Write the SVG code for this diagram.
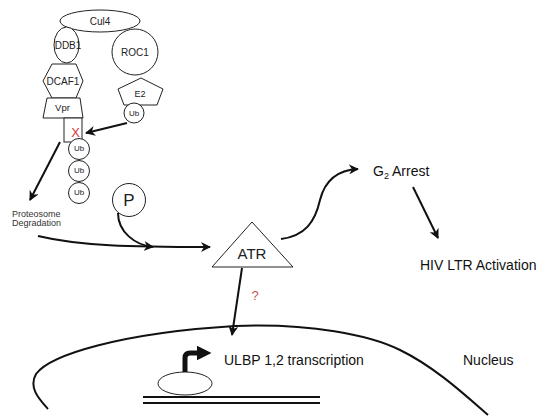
<svg xmlns="http://www.w3.org/2000/svg" width="550" height="420" viewBox="0 0 550 420">
<defs>
<marker id="ah" viewBox="0 0 10 10" refX="9" refY="5" markerWidth="5" markerHeight="5" orient="auto" markerUnits="strokeWidth">
<path d="M0,0 L10,5 L0,10 L3,5 Z" fill="#111"/>
</marker>
<marker id="ahb" viewBox="0 0 10 10" refX="5" refY="5" markerWidth="3" markerHeight="3" orient="auto" markerUnits="strokeWidth">
<path d="M0,0 L10,5 L0,10 Z" fill="#111"/>
</marker>
</defs>
<style>
.s{fill:#fff;stroke:#222;stroke-width:1}
.t{font-family:"Liberation Sans",Arial,sans-serif;fill:#222;text-anchor:middle}
.l{font-family:"Liberation Sans",Arial,sans-serif;fill:#111}
.c{fill:none;stroke:#111;stroke-width:2}
</style>
<rect width="550" height="420" fill="#fff"/>
<g id="cul4"><ellipse class="s" cx="100" cy="21" rx="40" ry="11"/><text class="t" x="100" y="25" font-size="10">Cul4</text></g>
<g id="ddb1"><ellipse class="s" cx="66.5" cy="45" rx="12.5" ry="18"/><text class="t" x="68" y="49" font-size="10">DDB1</text></g>
<g id="roc1"><circle class="s" cx="135" cy="52" r="23"/><text class="t" x="135" y="56" font-size="10">ROC1</text></g>
<g id="dcaf1"><polygon class="s" points="43,81 52,64 76,64 83,81 76,98 52,98"/><text class="t" x="63" y="85" font-size="10">DCAF1</text></g>
<g id="vpr"><polygon class="s" points="47,98 80,98 83,118 43,118"/><text class="t" x="62.5" y="111" font-size="9.5">Vpr</text></g>
<g id="e2"><polygon class="s" points="141,78 163,89 157,105 124,105 118,89"/><text class="t" x="140" y="97" font-size="9">E2</text></g>
<g id="ub0"><circle class="s" cx="134" cy="113" r="10"/><text class="t" x="134" y="116" font-size="8">Ub</text></g>
<g id="x"><rect class="s" x="64" y="118" width="18" height="24"/><text class="t" x="75.5" y="137" font-size="13" style="fill:#d03a3a">X</text></g>
<g id="ub1"><circle class="s" cx="79" cy="149" r="10.5"/><text class="t" x="79" y="151" font-size="8">Ub</text></g>
<g id="ub2"><circle class="s" cx="79" cy="171" r="10.5"/><text class="t" x="79" y="173" font-size="8">Ub</text></g>
<g id="ub3"><circle class="s" cx="79" cy="193" r="10.5"/><text class="t" x="79" y="195" font-size="8">Ub</text></g>
<g id="p"><circle class="s" cx="129" cy="200" r="16.5"/><text class="t" x="129" y="206" font-size="17">P</text></g>
<g id="proteosome"><text class="l" x="12" y="217" font-size="9" style="fill:#333">Proteosome</text><text class="l" x="12" y="226" font-size="9" style="fill:#333">Degradation</text></g>
<g id="atr"><polygon class="s" points="252,222 293,267 212,267"/><text class="t" x="252" y="259" font-size="15">ATR</text></g>
<g id="g2"><text class="l" x="373" y="176" font-size="14">G<tspan font-size="9" dy="3">2</tspan><tspan dy="-3"> Arrest</tspan></text></g>
<g id="hiv"><text class="l" x="420" y="270" font-size="14">HIV LTR Activation</text></g>
<g id="ulbp"><text class="l" x="224" y="365" font-size="14">ULBP 1,2 transcription</text></g>
<g id="nucleus"><text class="l" x="463" y="365" font-size="14">Nucleus</text>
<path class="c" d="M48,409 C40,400 28,388 36,374 C50,355 120,333 235,326 C310,323 370,335 400,350 C435,367 465,395 488,415"/></g>
<g id="gene">
<ellipse class="s" cx="185" cy="383.5" rx="27" ry="11.5"/>
<path d="M143,397 H320 M143,403 H320" stroke="#111" stroke-width="1.8"/>
<path d="M185,372 V358 Q185,353 190,353 H204" fill="none" stroke="#111" stroke-width="5" marker-end="url(#ahb)"/>
</g>
<g id="connectors">
<path class="c" d="M127,123 L86,133" marker-end="url(#ah)"/>
<path class="c" d="M60,142 L30,200" marker-end="url(#ah)"/>
<path class="c" d="M38,236 C80,246 130,247 210,247" marker-end="url(#ah)"/>
<path class="c" d="M118,213 C118,232 135,245 153,247" marker-end="url(#ah)"/>
<path class="c" d="M281,239 C305,236 315,222 320,200 C325,180 337,170 358,169" marker-end="url(#ah)"/>
<path class="c" d="M413,187 L438,238" marker-end="url(#ah)"/>
<path class="c" d="M242,268 L232,335" marker-end="url(#ah)"/>
<text x="255" y="300" font-family="Liberation Sans,Arial,sans-serif" font-size="13" fill="#c05a55" text-anchor="middle">?</text>
</g>
</svg>
